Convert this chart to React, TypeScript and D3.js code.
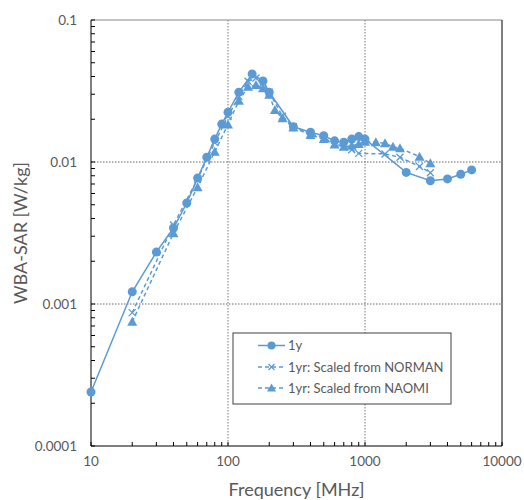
import React from "react";
import * as d3 from "d3";

const freq1y = [10, 20, 30, 40, 50, 60, 70, 80, 90, 100, 120, 150, 180, 200, 300, 400, 500, 600, 700, 800, 900, 1000, 2000, 3000, 4000, 5000, 6000];
const sar1y = [0.00024, 0.00122, 0.00232, 0.00343, 0.00514, 0.0077, 0.0108, 0.0145, 0.0185, 0.0224, 0.031, 0.0417, 0.0372, 0.031, 0.0177, 0.0162, 0.0153, 0.0141, 0.0138, 0.0145, 0.0151, 0.0145, 0.00845, 0.00738, 0.0076, 0.0082, 0.0088];

const freqNorman = [20, 40, 60, 80, 100, 120, 140, 160, 180, 200, 250, 300, 400, 500, 600, 700, 800, 900, 1400, 1800, 2500, 3000];
const sarNorman = [0.00087, 0.0036, 0.0076, 0.0137, 0.021, 0.029, 0.037, 0.039, 0.036, 0.031, 0.021, 0.0177, 0.0158, 0.0148, 0.0135, 0.0128, 0.0122, 0.0115, 0.0114, 0.0108, 0.0093, 0.0084];

const freqNaomi = [20, 40, 60, 80, 100, 120, 140, 160, 180, 200, 220, 250, 300, 400, 500, 600, 700, 800, 900, 1000, 1200, 1400, 1600, 1800, 2500, 3000];
const sarNaomi = [0.00075, 0.00315, 0.00664, 0.0118, 0.0184, 0.027, 0.0339, 0.0348, 0.033, 0.0297, 0.0232, 0.0203, 0.0175, 0.0155, 0.0145, 0.0133, 0.0128, 0.013, 0.0134, 0.0139, 0.0138, 0.01355, 0.0128, 0.0125, 0.0109, 0.0098];

const xTicks = [10, 100, 1000, 10000];
const yTicks = [0.0001, 0.001, 0.01, 0.1];
const yTickLabels = ["0.0001", "0.001", "0.01", "0.1"];
const legendLabels = ["1y", "1yr: Scaled from NORMAN", "1yr: Scaled from NAOMI"];

const BLUE = "#5B9BD5";
const TXT = "#595959";
const FONT = "Lato, 'Open Sans', sans-serif";

export default function App() {
  const left = 91, right = 502, top = 20, bottom = 446;
  const x = d3.scaleLog().domain([10, 10000]).range([left, right]);
  const y = d3.scaleLog().domain([0.0001, 0.1]).range([bottom, top]);
  const line = d3.line<[number, number]>().x((d) => x(d[0])).y((d) => y(d[1]));

  const s1 = freq1y.map((f, i) => [f, sar1y[i]] as [number, number]);
  const s2 = freqNorman.map((f, i) => [f, sarNorman[i]] as [number, number]);
  const s3 = freqNaomi.map((f, i) => [f, sarNaomi[i]] as [number, number]);

  const minorX: number[] = [];
  for (let dec = 10; dec < 10000; dec *= 10) for (let k = 2; k <= 9; k++) minorX.push(dec * k);
  const minorY: number[] = [];
  for (let dec = 0.0001; dec < 0.1; dec *= 10) for (let k = 2; k <= 9; k++) minorY.push(dec * k);

  const tri = (cx: number, cy: number, s = 5) =>
    `M${cx},${cy - s} L${cx + s},${cy + s * 0.8} L${cx - s},${cy + s * 0.8} Z`;
  const cross = (cx: number, cy: number, s = 3.5) =>
    `M${cx - s},${cy - s} L${cx + s},${cy + s} M${cx - s},${cy + s} L${cx + s},${cy - s}`;

  const legX = 233, legY = 333, legW = 218, legH = 71;
  const rows = [345.5, 367, 388];

  return (
    <svg width={524} height={500} style={{ position: "absolute", left: 0, top: 0, background: "#fff" }} fontFamily={FONT}>
      {[100, 1000].map((v) => (
        <line key={"gx" + v} x1={x(v)} x2={x(v)} y1={top} y2={bottom} stroke="#777" strokeDasharray="1.5,1.5" />
      ))}
      {[0.001, 0.01].map((v) => (
        <line key={"gy" + v} x1={left} x2={right} y1={y(v)} y2={y(v)} stroke="#666" strokeDasharray="1.5,1.5" />
      ))}
      <line x1={left} x2={right} y1={top} y2={top} stroke="#888" strokeWidth={1} />
      <line x1={right} x2={right} y1={top} y2={bottom} stroke="#000" strokeWidth={1} />
      <line x1={left} x2={left} y1={top} y2={bottom} stroke="#000" strokeWidth={1} />
      <line x1={left} x2={right} y1={bottom} y2={bottom} stroke="#000" strokeWidth={1} />
      {minorX.concat(xTicks).map((v, i) => (
        <line key={"tx" + i} x1={x(v)} x2={x(v)} y1={bottom} y2={bottom - 4} stroke="#000" />
      ))}
      {minorY.concat(yTicks).map((v, i) => (
        <line key={"ty" + i} x1={left} x2={left + 4} y1={y(v)} y2={y(v)} stroke="#000" />
      ))}
      {xTicks.map((v) => (
        <text key={"lx" + v} x={x(v)} y={466} textAnchor="middle" fontSize={13.5} fill={TXT}>
          {String(v)}
        </text>
      ))}
      {yTicks.map((v, i) => (
        <text key={"ly" + v} x={77} y={y(v) + 4.5} textAnchor="end" fontSize={13.5} fill={TXT}>
          {yTickLabels[i]}
        </text>
      ))}
      <text x={(left + right) / 2} y={496} textAnchor="middle" fontSize={18} fill={TXT}>
        Frequency [MHz]
      </text>
      <text transform={`translate(27,${(top + bottom) / 2}) rotate(-90)`} textAnchor="middle" fontSize={18} fill={TXT}>
        WBA-SAR [W/kg]
      </text>
      <path d={line(s3) || ""} fill="none" stroke={BLUE} strokeWidth={1.5} strokeDasharray="4,3" />
      <path d={line(s2) || ""} fill="none" stroke={BLUE} strokeWidth={1.5} strokeDasharray="4,3" />
      <path d={line(s1) || ""} fill="none" stroke={BLUE} strokeWidth={1.5} />
      {s3.map((d, i) => (
        <path key={"m3" + i} d={tri(x(d[0]), y(d[1]))} fill={BLUE} />
      ))}
      {s2.map((d, i) => (
        <path key={"m2" + i} d={cross(x(d[0]), y(d[1]))} stroke={BLUE} strokeWidth={1.3} fill="none" />
      ))}
      {s1.map((d, i) => (
        <circle key={"m1" + i} cx={x(d[0])} cy={y(d[1])} r={4.5} fill={BLUE} />
      ))}
      <rect x={legX} y={legY} width={legW} height={legH} fill="#fff" stroke="#404040" strokeWidth={1} />
      {legendLabels.map((lab, i) => (
        <g key={"leg" + i}>
          <line x1={258} x2={285} y1={rows[i]} y2={rows[i]} stroke={BLUE} strokeWidth={1.5} strokeDasharray={i === 0 ? undefined : "4,3"} />
          {i === 0 && <circle cx={271.5} cy={rows[i]} r={4} fill={BLUE} />}
          {i === 1 && <path d={cross(271.5, rows[i], 3)} stroke={BLUE} strokeWidth={1.3} fill="none" />}
          {i === 2 && <path d={tri(271.5, rows[i], 4.5)} fill={BLUE} />}
          <text x={288} y={rows[i] + 4.5} fontSize={13} fill={TXT}>
            {lab}
          </text>
        </g>
      ))}
    </svg>
  );
}
